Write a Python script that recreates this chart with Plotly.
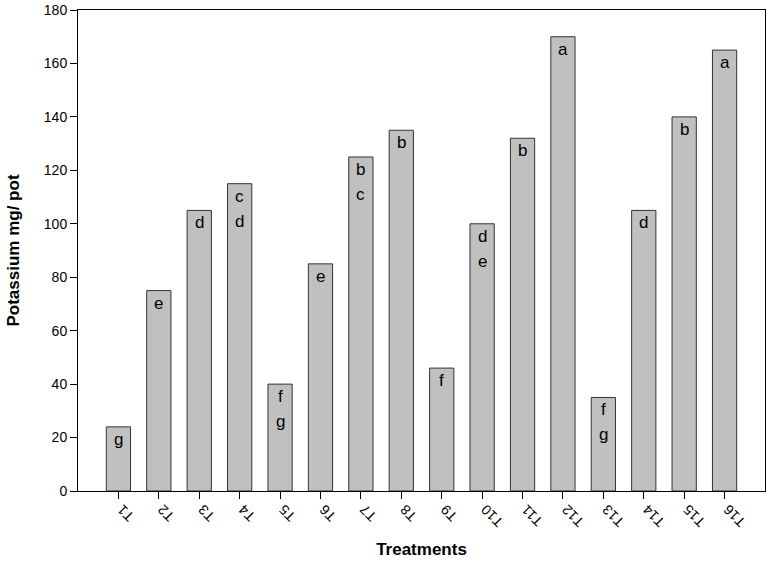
import plotly.graph_objects as go

treatments = ["T1", "T2", "T3", "T4", "T5", "T6", "T7", "T8",
              "T9", "T10", "T11", "T12", "T13", "T14", "T15", "T16"]
potassium = [24, 75, 105, 115, 40, 85, 125, 135, 46, 100, 132, 170, 35, 105, 140, 165]
letters = [["g"], ["e"], ["d"], ["c", "d"], ["f", "g"], ["e"], ["b", "c"], ["b"],
           ["f"], ["d", "e"], ["b"], ["a"], ["f", "g"], ["d"], ["b"], ["a"]]
yticks = [0, 20, 40, 60, 80, 100, 120, 140, 160, 180]

idx = list(range(len(treatments)))

fig = go.Figure()
fig.add_trace(go.Bar(
    x=idx, y=potassium, width=0.6,
    marker=dict(color="#c0c0c0", line=dict(color="#333333", width=1)),
    hoverinfo="skip",
))

annotations = []
for i, (v, ls) in enumerate(zip(potassium, letters)):
    for j, l in enumerate(ls):
        annotations.append(dict(
            x=i, y=v, xref="x", yref="y", text=l, showarrow=False,
            yanchor="top", yshift=-1 - 25 * j,
            font=dict(size=17, color="black", family="Liberation Sans, Arial, sans-serif"),
        ))

fig.update_layout(
    width=767, height=562,
    margin=dict(l=78, r=2, t=10, b=71),
    plot_bgcolor="white", paper_bgcolor="white",
    showlegend=False,
    font=dict(family="Liberation Sans, Arial, sans-serif", color="black"),
    annotations=annotations,
    xaxis=dict(
        range=[-1, 16], tickmode="array", tickvals=idx, ticktext=treatments,
        tickangle=-135, ticks="outside", ticklen=7, tickcolor="black",
        showline=True, linecolor="black", linewidth=1, mirror=True,
        showgrid=False, zeroline=False, tickfont=dict(size=14), automargin=False,
        title=dict(text="<b>Treatments</b>", font=dict(size=17), standoff=13),
    ),
    yaxis=dict(
        range=[0, 180], tickmode="array", tickvals=yticks,
        ticks="outside", ticklen=7, tickcolor="black",
        showline=True, linecolor="black", linewidth=1, mirror=True,
        showgrid=False, zeroline=False, tickfont=dict(size=14), automargin=False,
        title=dict(text="<b>Potassium mg/ pot</b>", font=dict(size=17), standoff=19),
    ),
)

fig.write_html("out.html", config={"displayModeBar": False},
               post_script="document.body.style.margin='0';document.body.style.overflow='hidden';")
